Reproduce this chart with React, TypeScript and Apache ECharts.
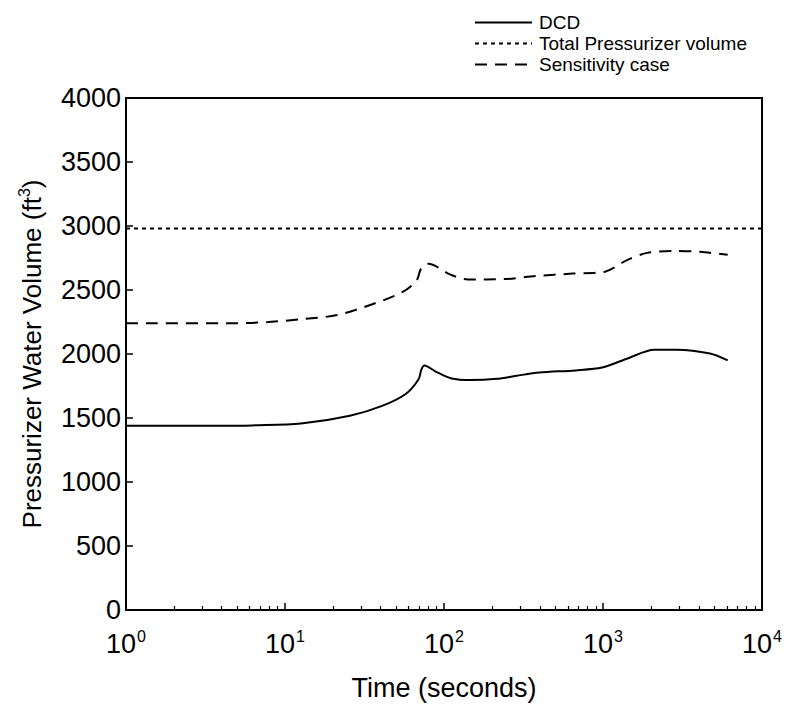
import React, { useEffect, useRef } from "react";
import * as echarts from "echarts";

const dcdTime = [1, 5, 6.2, 12.6, 25.6, 40.8, 57.4, 69.2, 72.1, 75.3, 88, 110, 147, 215, 286, 397, 671, 986, 1427, 2094, 2904, 4710, 6080];
const dcdValue = [1440, 1440, 1442, 1457, 1518, 1595, 1688, 1803, 1880, 1911, 1865, 1811, 1796, 1806, 1830, 1855, 1872, 1894, 1965, 2034, 2034, 2004, 1950];

const sensTime = [1, 5, 7.85, 13.1, 21.2, 35.4, 54.3, 67.2, 72.1, 79.7, 110, 141, 238, 380, 644, 1028, 1427, 1896, 2782, 4083, 6080];
const sensValue = [2240, 2240, 2250, 2273, 2304, 2389, 2481, 2574, 2674, 2705, 2620, 2582, 2585, 2610, 2628, 2643, 2736, 2790, 2805, 2798, 2775];

const totalTime = [1, 10000];
const totalValue = [2980, 2980];

const seriesNames = ["DCD", "Total Pressurizer volume", "Sensitivity case"];

const zip = (t: number[], v: number[]) => t.map((x, i) => [x, v[i]]);

export default function App() {
  const ref = useRef<HTMLDivElement>(null);
  useEffect(() => {
    if (!ref.current) return;
    const chart = echarts.init(ref.current, undefined, { renderer: "svg" });
    const font = "Liberation Sans, Arial, sans-serif";
    chart.setOption({
      animation: false,
      backgroundColor: "#fff",
      textStyle: { fontFamily: font, color: "#000" },
      grid: {
        left: 114,
        top: 90,
        width: 648,
        height: 519,
        show: true,
        borderColor: "#000",
        borderWidth: 2,
        containLabel: false,
      },
      legend: {
        orient: "vertical",
        left: 461,
        top: 0,
        itemWidth: 57,
        itemHeight: 12,
        itemGap: 2,
        itemStyle: { opacity: 0 },
        textStyle: { fontSize: 19, color: "#000", fontFamily: font, padding: [0, 0, 0, 2] },
        data: seriesNames,
      },
      xAxis: {
        type: "log",
        logBase: 10,
        min: 1,
        max: 10000,
        name: "Time (seconds)",
        nameLocation: "middle",
        nameGap: 64,
        nameTextStyle: { fontSize: 27, color: "#000", fontFamily: font },
        axisLine: { show: true, onZero: false, lineStyle: { color: "#000", width: 2 } },
        axisTick: { show: true, inside: true, length: 7, lineStyle: { color: "#000", width: 1.5 } },
        minorTick: { show: true, splitNumber: 9, length: 4, lineStyle: { color: "#000", width: 1.2 } },
        splitLine: { show: false },
        axisLabel: {
          margin: 18,
          color: "#000",
          fontSize: 27,
          fontFamily: font,
          formatter: (v: number) => `10{sup|${Math.round(Math.log10(v))}}`,
          rich: {
            sup: { fontSize: 16, verticalAlign: "top", padding: [0, 0, 16, 1], fontFamily: font, color: "#000" },
          },
        },
      },
      yAxis: {
        type: "value",
        min: 0,
        max: 4000,
        interval: 500,
        name: "Pressurizer Water Volume (ft{sup|3})",
        nameLocation: "middle",
        nameGap: 78,
        nameTextStyle: {
          fontSize: 26,
          color: "#000",
          fontFamily: font,
          rich: {
            sup: { fontSize: 16, verticalAlign: "top", padding: [0, 0, 16, 0], fontFamily: font, color: "#000" },
          },
        },
        axisLine: { show: true, lineStyle: { color: "#000", width: 2 } },
        axisTick: { show: true, inside: true, length: 7, lineStyle: { color: "#000", width: 1.5 } },
        splitLine: { show: false },
        axisLabel: { margin: 5, color: "#000", fontSize: 27, fontFamily: font, formatter: (v: number) => String(v) },
      },
      series: [
        {
          name: seriesNames[0],
          type: "line",
          data: zip(dcdTime, dcdValue),
          showSymbol: false,
          symbol: "none",
          smooth: 0.3,
          lineStyle: { color: "#000", width: 2, type: "solid" },
          itemStyle: { color: "#000" },
        },
        {
          name: seriesNames[1],
          type: "line",
          data: zip(totalTime, totalValue),
          showSymbol: false,
          symbol: "none",
          lineStyle: { color: "#000", width: 2, type: [4, 4] },
          itemStyle: { color: "#000" },
        },
        {
          name: seriesNames[2],
          type: "line",
          data: zip(sensTime, sensValue),
          showSymbol: false,
          symbol: "none",
          smooth: 0.3,
          lineStyle: { color: "#000", width: 2, type: [12, 8] },
          itemStyle: { color: "#000" },
        },
      ],
    });
    return () => chart.dispose();
  }, []);
  return <div ref={ref} style={{ width: 777, height: 698 }} />;
}
